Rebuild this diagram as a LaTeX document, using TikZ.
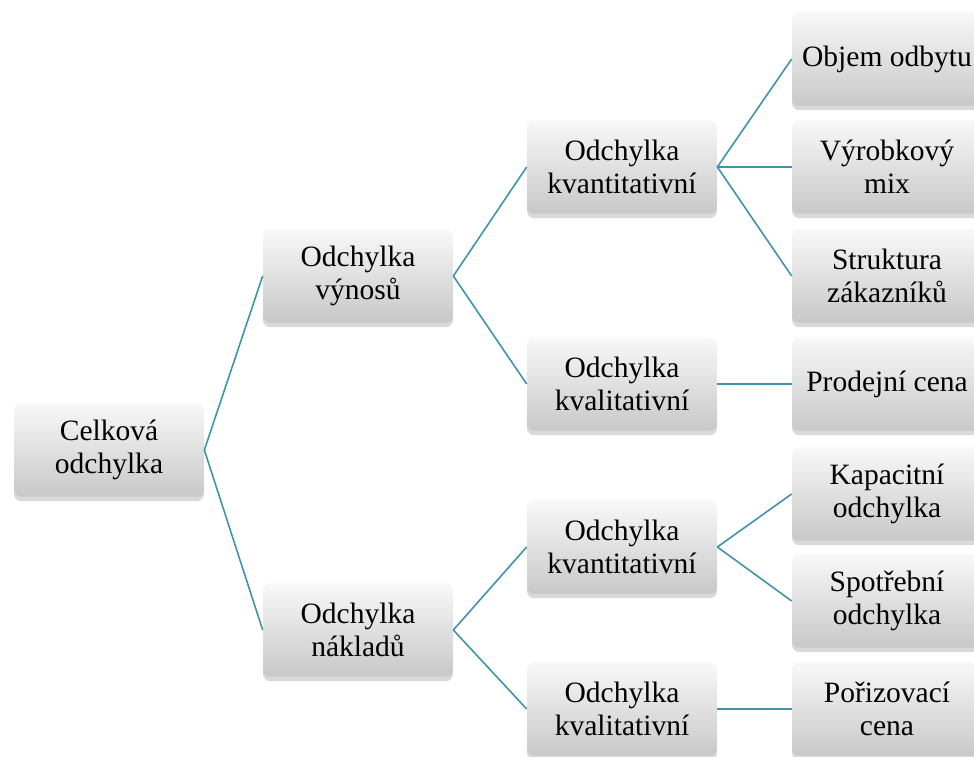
\documentclass[tikz,border=0pt]{standalone}
\usepackage{fontspec}
\setmainfont{Liberation Serif}
\usepackage{tikz}
\usetikzlibrary{shadows}
\usepackage{xcolor}
\definecolor{linkteal}{RGB}{62,146,172}
\definecolor{boxtop}{RGB}{248,248,248}
\definecolor{boxbottom}{RGB}{200,200,200}

\begin{document}
\begin{tikzpicture}[
        x=0.02cm, y=-0.02cm,
        block/.style={rectangle, rounded corners=4pt, top color=boxtop, bottom color=boxbottom, draw=none, minimum width=3.8cm, minimum height=1.87cm, align=center, font=\fontsize{16.8}{18.8}\selectfont, drop shadow={opacity=0.3, shadow xshift=0pt, shadow yshift=-2.5pt}},
        link/.style={draw=linkteal, line width=0.9pt}
    ]
        \clip (0,0) rectangle (974,757);
        % first and second level
        \node [block] (total) at (109,450) {Celková\\odchylka};
        \node [block] (rev) at (358,276) {Odchylka\\výnosů};
        \node [block] (cost) at (358,630) {Odchylka\\nákladů};
        % third level
        \node [block] (revqty) at (622,167) {Odchylka\\kvantitativní};
        \node [block] (revqual) at (622,384) {Odchylka\\kvalitativní};
        \node [block] (costqty) at (622,547) {Odchylka\\kvantitativní};
        \node [block] (costqual) at (622,709) {Odchylka\\kvalitativní};
        % leaves
        \node [block] (vol) at (887,59) {Objem odbytu};
        \node [block] (mix) at (887,167) {Výrobkový\\mix};
        \node [block] (cust) at (887,276) {Struktura\\zákazníků};
        \node [block] (price) at (887,384) {Prodejní cena};
        \node [block] (cap) at (887,494) {Kapacitní\\odchylka};
        \node [block] (use) at (887,601) {Spotřební\\odchylka};
        \node [block] (buy) at (887,709) {Pořizovací\\cena};

        \draw [link] (total.east) -- (rev.west);
        \draw [link] (total.east) -- (cost.west);
        \draw [link] (rev.east) -- (revqty.west);
        \draw [link] (rev.east) -- (revqual.west);
        \draw [link] (cost.east) -- (costqty.west);
        \draw [link] (cost.east) -- (costqual.west);
        \draw [link] (revqty.east) -- (vol.west);
        \draw [link] (revqty.east) -- (mix.west);
        \draw [link] (revqty.east) -- (cust.west);
        \draw [link] (revqual.east) -- (price.west);
        \draw [link] (costqty.east) -- (cap.west);
        \draw [link] (costqty.east) -- (use.west);
        \draw [link] (costqual.east) -- (buy.west);
    \end{tikzpicture}
\end{document}
